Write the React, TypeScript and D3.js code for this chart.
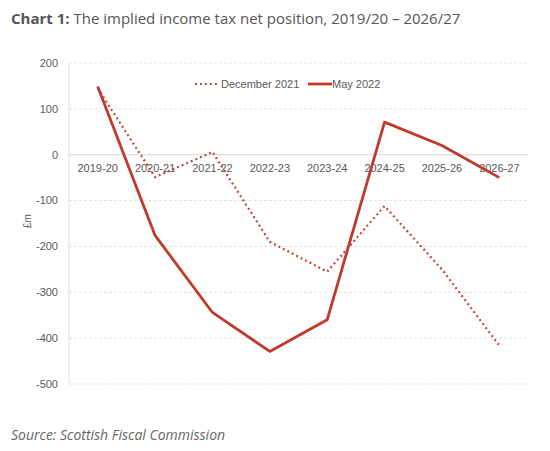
import { useEffect, useRef } from "react";
import * as d3 from "d3";

const years = ["2019-20", "2020-21", "2021-22", "2022-23", "2023-24", "2024-25", "2025-26", "2026-27"];
const dec2021 = [145, -49, 6, -190, -255, -112, -250, -416];
const may2022 = [149, -176, -344, -429, -360, 71, 20, -50];
const yTicks = [200, 100, 0, -100, -200, -300, -400, -500];

const RED = "#c0392b";
const AXIS_FONT = "'Liberation Sans', Arial, sans-serif";

export default function App() {
  const ref = useRef<SVGSVGElement>(null);
  const width = 550;
  const height = 451;
  const marginLeft = 69;
  const marginRight = 22;
  const plotTop = 63;
  const plotBottom = 384;

  useEffect(() => {
    const svg = d3.select(ref.current);
    svg.selectAll("*").remove();

    const x = d3.scaleBand().domain(years).range([marginLeft, width - marginRight]);
    const y = d3.scaleLinear().domain([-500, 200]).range([plotBottom, plotTop]);
    const cx = (d: string) => (x(d) ?? 0) + x.bandwidth() / 2;

    // title
    const title = svg
      .append("text")
      .attr("x", 11)
      .attr("y", 24)
      .attr("font-family", "'Open Sans', sans-serif")
      .attr("font-size", 15)
      .attr("fill", "#555");
    title.append("tspan").attr("font-weight", "bold").text("Chart 1:");
    title.append("tspan").text(" The implied income tax net position, 2019/20 – 2026/27");

    // gridlines
    svg
      .append("g")
      .selectAll("line")
      .data(yTicks.filter((t) => t !== 0))
      .join("line")
      .attr("x1", marginLeft)
      .attr("x2", width - marginRight)
      .attr("y1", (d) => y(d))
      .attr("y2", (d) => y(d))
      .attr("stroke", "#e2e2e2")
      .attr("stroke-dasharray", "3,2");

    // left axis line
    svg
      .append("line")
      .attr("x1", marginLeft)
      .attr("x2", marginLeft)
      .attr("y1", plotTop)
      .attr("y2", plotBottom)
      .attr("stroke", "#e0e0e0");

    // zero line
    svg
      .append("line")
      .attr("x1", marginLeft)
      .attr("x2", width - marginRight)
      .attr("y1", y(0))
      .attr("y2", y(0))
      .attr("stroke", "#d6d6d6");

    // y tick labels
    svg
      .append("g")
      .selectAll("text")
      .data(yTicks)
      .join("text")
      .attr("x", 58)
      .attr("y", (d) => y(d))
      .attr("dy", "0.35em")
      .attr("text-anchor", "end")
      .attr("font-family", AXIS_FONT)
      .attr("font-size", 11)
      .attr("fill", "#595959")
      .text((d) => d);

    // category labels
    svg
      .append("g")
      .selectAll("text")
      .data(years)
      .join("text")
      .attr("x", (d) => cx(d))
      .attr("y", y(0) + 17)
      .attr("text-anchor", "middle")
      .attr("font-family", AXIS_FONT)
      .attr("font-size", 11)
      .attr("fill", "#595959")
      .text((d) => d);

    // y axis title
    svg
      .append("text")
      .attr("transform", `translate(31, ${y(-145)}) rotate(-90)`)
      .attr("text-anchor", "middle")
      .attr("font-family", AXIS_FONT)
      .attr("font-size", 10)
      .attr("fill", "#595959")
      .text("£m");

    const line = d3
      .line<number>()
      .x((_, i) => cx(years[i]))
      .y((d) => y(d));

    svg
      .append("path")
      .datum(dec2021)
      .attr("d", line)
      .attr("fill", "none")
      .attr("stroke", RED)
      .attr("stroke-width", 2.2)
      .attr("stroke-dasharray", "1.8,3.2");

    svg
      .append("path")
      .datum(may2022)
      .attr("d", line)
      .attr("fill", "none")
      .attr("stroke", RED)
      .attr("stroke-width", 2.8)
      .attr("stroke-linejoin", "round");

    // legend
    const lg = svg.append("g").attr("font-family", AXIS_FONT).attr("font-size", 11).attr("fill", "#595959");
    lg.append("line")
      .attr("x1", 195).attr("x2", 220).attr("y1", 84).attr("y2", 84)
      .attr("stroke", RED).attr("stroke-width", 2.2).attr("stroke-dasharray", "1.8,3.2");
    lg.append("text").attr("x", 221).attr("y", 84).attr("dy", "0.35em").text("December 2021");
    lg.append("line")
      .attr("x1", 308).attr("x2", 332).attr("y1", 84).attr("y2", 84)
      .attr("stroke", RED).attr("stroke-width", 2.8);
    lg.append("text").attr("x", 332).attr("y", 84).attr("dy", "0.35em").text("May 2022");

    // source
    svg
      .append("text")
      .attr("x", 11)
      .attr("y", 440)
      .attr("font-family", "'Open Sans', sans-serif")
      .attr("font-style", "italic")
      .attr("font-size", 14)
      .attr("fill", "#666")
      .text("Source: Scottish Fiscal Commission");
  }, []);

  return (
    <svg
      ref={ref}
      width={width}
      height={height}
      style={{ position: "absolute", left: 0, top: 0, background: "#fff" }}
    />
  );
}
